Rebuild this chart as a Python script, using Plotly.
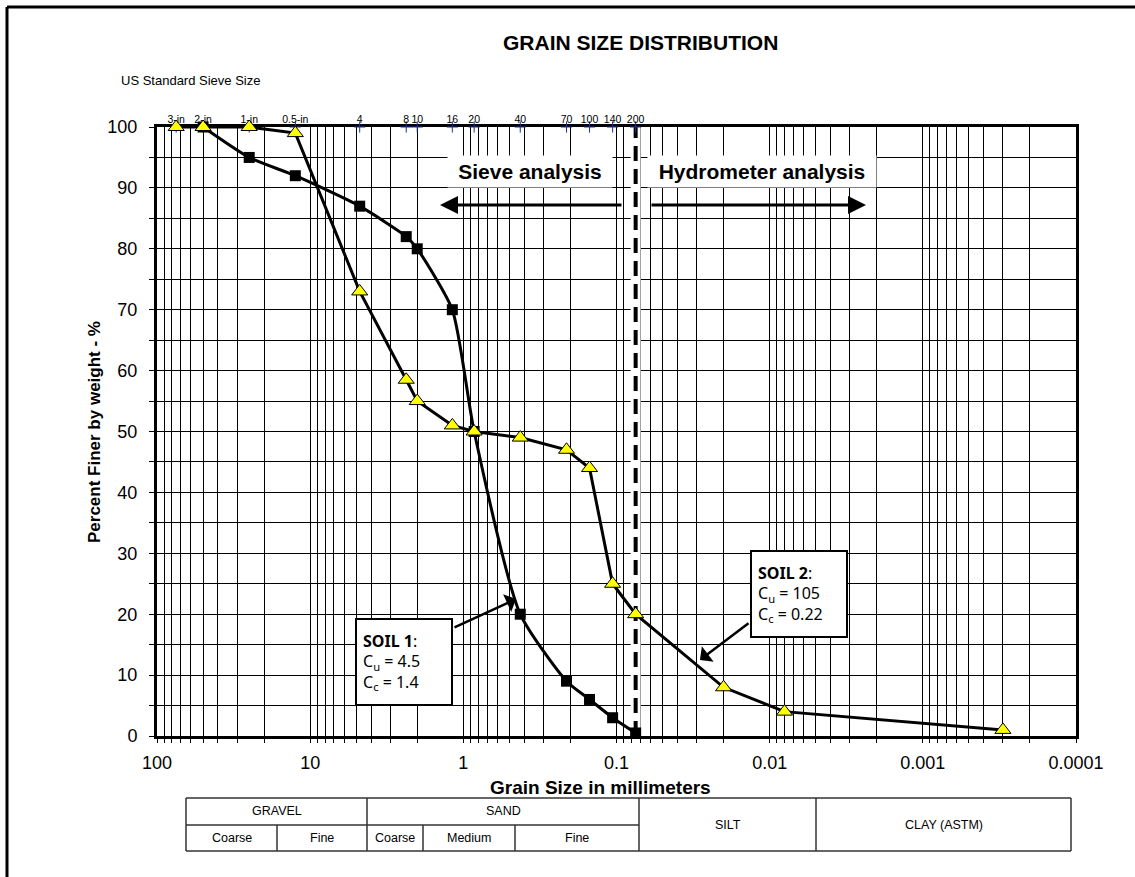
import plotly.graph_objects as go

# ---------------- data ----------------
sieve_sizes = [75, 50, 25, 12.5, 4.75, 2.36, 2.0, 1.18, 0.85, 0.425, 0.212, 0.15, 0.106, 0.075]
sieve_labels = ["3-in", "2-in", "1-in", "0.5-in", "4", "8", "10", "16", "20", "40", "70", "100", "140", "200"]

soil1_size = [50, 25, 12.5, 4.75, 2.36, 2.0, 1.18, 0.85, 0.425, 0.212, 0.15, 0.106, 0.075]
soil1_finer = [100, 95, 92, 87, 82, 80, 70, 50, 20, 9, 6, 3, 0.5]

soil2_size = [75, 50, 25, 12.5, 4.75, 2.36, 2.0, 1.18, 0.85, 0.425, 0.212, 0.15, 0.106, 0.075, 0.02, 0.008, 0.0003]
soil2_finer = [100, 100, 100, 99, 73, 58.5, 55, 51, 50, 49, 47, 44, 25, 20, 8, 4, 1]

no200_size = 0.075  # boundary sieve between sieve and hydrometer analysis

decades = [100, 10, 1, 0.1, 0.01, 0.001, 0.0001]
y_major = list(range(0, 101, 10))

table_top = ["GRAVEL", "SAND"]
table_sub = ["Coarse", "Fine", "Coarse", "Medium", "Fine"]
table_full = ["SILT", "CLAY (ASTM)"]

# ---------------- layout geometry (pixels) ----------------
W, H = 1135, 877
ML, MR, MT, MB = 157, 59, 127, 141
PW, PH = W - ML - MR, H - MT - MB


def px(x):
    return (x - ML) / PW


def py(y):
    return (H - MB - y) / PH


FONT = "Liberation Sans, Arial, sans-serif"
CAL = "Noto Sans, Open Sans, sans-serif"

grid_x = [m * 10.0 ** k for k in range(-4, 2) for m in range(1, 10)] + [100]
grid_x_text = []
for v in grid_x:
    match = [d for d in decades if abs(v - d) / d < 1e-9]
    grid_x_text.append(f"{match[0]:g}" if match else "")

grid_y = list(range(0, 101, 5))
grid_y_text = [str(v) if v in y_major else "" for v in grid_y]

fig = go.Figure()

# white strip + dashed No.200 line
fig.add_trace(go.Scatter(x=[no200_size, no200_size], y=[0, 100], mode="lines",
                         line=dict(color="white", width=10), hoverinfo="skip", showlegend=False))
fig.add_trace(go.Scatter(x=[no200_size, no200_size], y=[0, 100], mode="lines",
                         line=dict(color="black", width=4, dash="15px,8px"), hoverinfo="skip",
                         showlegend=False, cliponaxis=False))

# sieve position crosses on top edge
fig.add_trace(go.Scatter(x=sieve_sizes, y=[100] * len(sieve_sizes), mode="markers",
                         marker=dict(symbol="cross-thin", size=8, line=dict(color="#1f2fa0", width=1)),
                         cliponaxis=False, hoverinfo="skip", showlegend=False))

# soil 1
fig.add_trace(go.Scatter(x=soil1_size, y=soil1_finer, mode="lines+markers", name="Soil 1",
                         line=dict(color="black", width=3, shape="spline", smoothing=0.6),
                         marker=dict(symbol="square", size=11, color="black"),
                         cliponaxis=False, showlegend=False))
# soil 2
fig.add_trace(go.Scatter(x=soil2_size, y=soil2_finer, mode="lines+markers", name="Soil 2",
                         line=dict(color="black", width=3),
                         marker=dict(symbol="triangle-up", size=14, color="#ffff00",
                                     line=dict(color="black", width=1)),
                         cliponaxis=False, showlegend=False))

# top axis for sieve labels
fig.add_trace(go.Scatter(x=[sieve_sizes[0]], y=[100], xaxis="x2", mode="markers",
                         marker=dict(opacity=0), hoverinfo="skip", showlegend=False))

fig.update_layout(
    width=W, height=H,
    margin=dict(l=ML, r=MR, t=MT, b=MB),
    paper_bgcolor="white", plot_bgcolor="white",
    font=dict(family=FONT, color="black"),
    xaxis=dict(type="log", range=[2, -4], tickvals=grid_x, ticktext=grid_x_text,
               showgrid=True, gridcolor="black", gridwidth=1,
               showline=True, linecolor="black", linewidth=3, mirror=True,
               ticks="outside", ticklen=4, tickcolor="black", ticklabelstandoff=4,
               tickfont=dict(size=18, family=FONT), zeroline=False, layer="below traces"),
    xaxis2=dict(type="log", range=[2, -4], overlaying="x", side="top",
                tickvals=sieve_sizes, ticktext=sieve_labels, showgrid=False,
                tickfont=dict(size=10.5, family=FONT), ticks="", showline=False,
                ticklabelstandoff=1),
    yaxis=dict(range=[0, 100], tickvals=grid_y, ticktext=grid_y_text,
               showgrid=True, gridcolor="black", gridwidth=1,
               showline=True, linecolor="black", linewidth=3, mirror=True,
               ticks="outside", ticklen=5, tickcolor="black", ticklabelstandoff=8,
               tickfont=dict(size=18, family=FONT), zeroline=False, layer="below traces"),
)

ann = []
# titles
ann.append(dict(text="<b>GRAIN SIZE DISTRIBUTION</b>", x=px(640), y=py(43), font=dict(size=21)))
ann.append(dict(text="US Standard Sieve Size", x=px(190), y=py(80), font=dict(size=13)))
ann.append(dict(text="<b>Grain Size in millimeters</b>", x=px(600), y=py(787), font=dict(size=19)))
ann.append(dict(text="<b>Percent Finer by weight - %</b>", x=px(95), y=py(432), textangle=-90,
                font=dict(size=17)))

# sieve / hydrometer labels
ann.append(dict(text="<b>Sieve analysis</b>", x=px(530), y=py(171), font=dict(size=21),
                bgcolor="white", width=164, height=31, borderpad=0))
ann.append(dict(text="<b>Hydrometer analysis</b>", x=px(762), y=py(171), font=dict(size=21),
                bgcolor="white", width=228, height=31, borderpad=0))

# soil boxes
ann.append(dict(text="<b>SOIL 1</b>:<br>C<sub>u</sub> = 4.5<br>C<sub>c</sub> = 1.4",
                x=px(355), y=py(618), xanchor="left", yanchor="top", align="left",
                font=dict(size=16, family=CAL), bgcolor="white", bordercolor="black",
                borderwidth=2, borderpad=6, width=82, height=72))
ann.append(dict(text="<b>SOIL 2</b>:<br>C<sub>u</sub> = 105<br>C<sub>c</sub> = 0.22",
                x=px(750), y=py(550), xanchor="left", yanchor="top", align="left",
                font=dict(size=16, family=CAL), bgcolor="white", bordercolor="black",
                borderwidth=2, borderpad=6, width=82, height=72))


def arrow(tip, tail, head=2, size=1.2, width=3):
    return dict(xref="paper", yref="paper", x=px(tip[0]), y=py(tip[1]),
                ax=tail[0] - tip[0], ay=tail[1] - tip[1], axref="pixel", ayref="pixel",
                text="", showarrow=True, arrowhead=head, arrowsize=size, arrowwidth=width,
                arrowcolor="black")


ann.append(arrow((440, 205), (623, 205)))
ann.append(arrow((866, 205), (650, 205)))
ann.append(arrow((516, 599), (453, 628), head=1, size=1.3, width=2.5))
ann.append(arrow((700, 660), (750, 622), head=1, size=1.3, width=2.5))

# table
tx = [186, 277, 367, 423, 515, 639, 816, 1071]
ty = [798, 825, 851]
shapes = []
LC = "#333333"


def seg(x0, y0, x1, y1, w=1.5, c=LC):
    shapes.append(dict(type="line", xref="paper", yref="paper", x0=px(x0), y0=py(y0),
                       x1=px(x1), y1=py(y1), line=dict(color=c, width=w)))


seg(tx[0], ty[0], tx[-1], ty[0])
seg(tx[0], ty[2], tx[-1], ty[2])
seg(tx[0], ty[1], tx[5], ty[1])
for i in [0, 2, 5, 6, 7]:
    seg(tx[i], ty[0], tx[i], ty[2])
for i in [1, 3, 4]:
    seg(tx[i], ty[1], tx[i], ty[2])

tfont = dict(size=12.5, family=FONT)
top_cols = [(tx[0], tx[2]), (tx[2], tx[5])]
for lab, (a, b) in zip(table_top, top_cols):
    ann.append(dict(text=lab, x=px((a + b) / 2), y=py((ty[0] + ty[1]) / 2), font=tfont))
for i, lab in enumerate(table_sub):
    ann.append(dict(text=lab, x=px((tx[i] + tx[i + 1]) / 2), y=py((ty[1] + ty[2]) / 2), font=tfont))
for i, lab in enumerate(table_full):
    ann.append(dict(text=lab, x=px((tx[5 + i] + tx[6 + i]) / 2), y=py((ty[0] + ty[2]) / 2), font=tfont))

for a in ann:
    a.setdefault("xref", "paper")
    a.setdefault("yref", "paper")
    a.setdefault("showarrow", False)
    a.setdefault("xanchor", "center")
    a.setdefault("yanchor", "middle")

# outer border (left and top)
seg(7, 7, W + 5, 7, w=3, c="black")
seg(7, 7, 7, H + 5, w=3, c="black")

fig.update_layout(annotations=ann, shapes=shapes)
fig.write_html("out.html", config={"displayModeBar": False},
               post_script="document.body.style.margin='0px';document.body.style.overflow='hidden';")
